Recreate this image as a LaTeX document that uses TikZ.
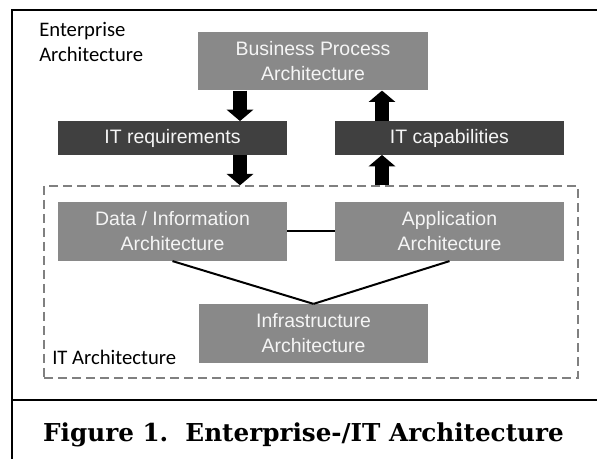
\documentclass[tikz,border=0pt]{standalone}
\usepackage{fontspec}
\setmainfont{Liberation Sans}
\newfontfamily\labelfont{Carlito}
\newfontfamily\capfont{DejaVu Serif}
\usetikzlibrary{arrows.meta}

\definecolor{boxgray}{HTML}{898989}
\definecolor{boxdark}{HTML}{404040}
\definecolor{boxtext}{HTML}{F5F5F5}
\definecolor{dashgray}{HTML}{808080}

\tikzset{
  archbox/.style={fill=boxgray, text=boxtext, align=center, inner sep=0pt,
    minimum width=172pt, minimum height=44pt,
    font=\fontsize{14.6}{18.75}\selectfont},
  reqbox/.style={archbox, fill=boxdark, minimum height=25pt},
  dashbox/.style={draw=dashgray, line width=1pt, dash pattern=on 6.75pt off 3.75pt,
    minimum width=400.5pt, minimum height=144pt, inner sep=0pt},
  flow/.style={line width=10.5pt, -{Triangle[width=19.5pt,length=8.5pt]}},
  link/.style={line width=1.5pt}
}

\begin{document}
\begin{tikzpicture}[x=0.75pt, y=-0.75pt]
  \useasboundingbox (0,0) rectangle (597,459);

  % frame and caption row
  \draw[line width=1.5pt] (12,459) |- (597,10);
  \draw[line width=1.5pt] (12,400) -- (597,400);

  \node[anchor=north west, align=left, inner sep=0pt,
        font=\labelfont\fontsize{15.5}{18.75}\selectfont] (ealabel) at (39,22)
        {Enterprise\\Architecture};

  \node[archbox] (bpa) at (313,61) {Business Process\\Architecture};
  \node[reqbox] (itreq) at (172.5,138) {IT requirements};
  \node[reqbox] (itcap) at (449.5,138) {IT capabilities};

  \node[dashbox] (itbox) at (311,282) {};
  \node[anchor=base west, inner sep=0pt,
        font=\labelfont\fontsize{15.5}{18.75}\selectfont] (itlabel) at (52,365)
        {IT Architecture};

  \node[archbox] (data) at (172.5,231.5) {Data / Information\\Architecture};
  \node[archbox] (app) at (449.5,231.5) {Application\\Architecture};
  \node[archbox] (infra) at (313.5,333.5) {Infrastructure\\Architecture};

  % x positions of the block arrows
  \coordinate (dn) at (240,0);
  \coordinate (up) at (382,0);

  \draw[flow] (bpa.south -| dn) -- (itreq.north -| dn);
  \draw[flow] (itreq.south -| dn) -- (itbox.north -| dn);
  \draw[flow] (itbox.north -| up) -- (itcap.south -| up);
  \draw[flow] (itcap.north -| up) -- (bpa.south -| up);

  \draw[link] (data) -- (app);
  \draw[link] (data.south) -- (infra.north);
  \draw[link] (app.south) -- (infra.north);

  \node[anchor=base, inner sep=0pt,
        font=\capfont\bfseries\fontsize{18.5}{22}\selectfont] (caption) at (303.5,442)
        {Figure 1.\ \ Enterprise-/IT Architecture};
\end{tikzpicture}
\end{document}
